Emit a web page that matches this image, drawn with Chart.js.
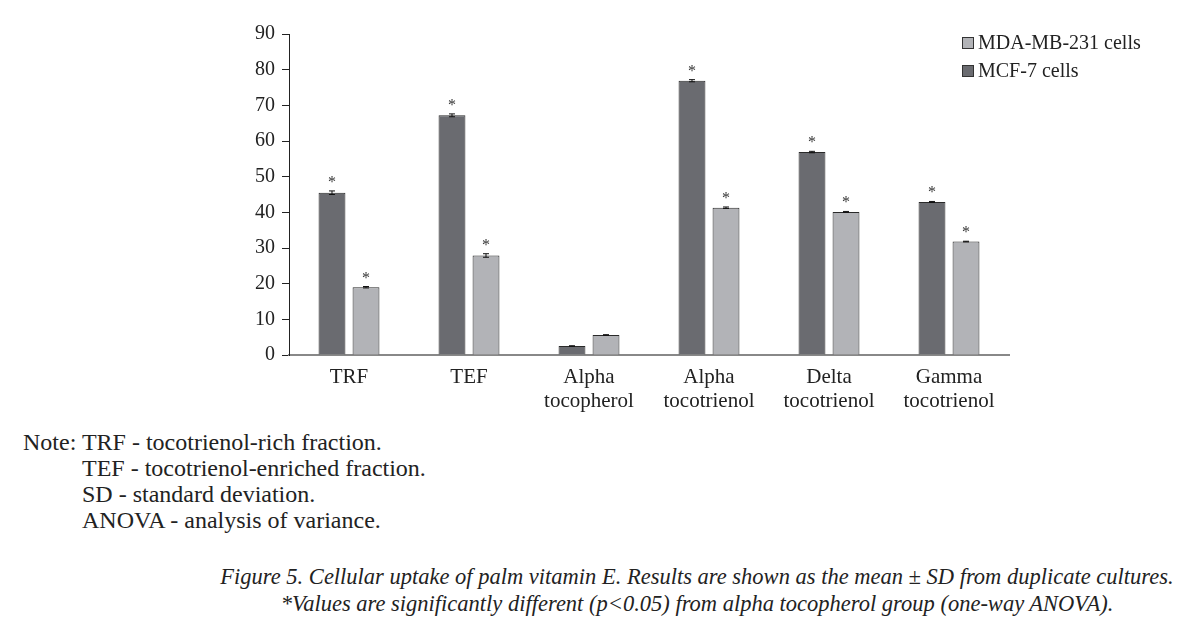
<!DOCTYPE html>
<html>
<head>
<meta charset="utf-8">
<script src="https://cdn.jsdelivr.net/npm/chart.js@4.4.1/dist/chart.umd.min.js"></script>
<style>
  body { margin: 0; background: #fff; }
  #wrap { position: relative; width: 1196px; height: 635px; overflow: hidden; font-family: "Liberation Serif", serif; color: #222; }
  #grafico { position: absolute; left: 0; top: 0; }
  .legenda { position: absolute; left: 962px; font-size: 20px; line-height: 28px; }
  .legenda span.q { display: inline-block; width: 10px; height: 10px; border: 1px solid #333; margin-right: 4px; vertical-align: 0px; }
  #notas { position: absolute; left: 23px; top: 429px; font-size: 24px; line-height: 26px; }
  #notas div { white-space: nowrap; }
  #legenda-fig { position: absolute; left: 197px; top: 563px; width: 1000px; text-align: center; font-style: italic; font-size: 22.5px; line-height: 27px; white-space: nowrap; }
</style>
</head>
<body>
<div id="wrap">
  <canvas id="grafico" width="1196" height="420"></canvas>
  <div class="legenda" id="leg"></div>
  <div id="notas">
    <div>Note: TRF - tocotrienol-rich fraction.</div>
    <div style="padding-left:59px">TEF - tocotrienol-enriched fraction.</div>
    <div style="padding-left:59px">SD - standard deviation.</div>
    <div style="padding-left:59px">ANOVA - analysis of variance.</div>
  </div>
  <div id="legenda-fig">
    <div>Figure 5. Cellular uptake of palm vitamin E. Results are shown as the mean ± SD from duplicate cultures.</div>
    <div>*Values are significantly different (p&lt;0.05) from alpha tocopherol group (one-way ANOVA).</div>
  </div>
</div>
<script>
// Dados
const categorias = [
    "TRF",
    "TEF",
    ["Alpha", "tocopherol"],
    ["Alpha", "tocotrienol"],
    ["Delta", "tocotrienol"],
    ["Gamma", "tocotrienol"]
];
const mcf7 = [45.5, 67.2, 2.5, 76.9, 56.9, 42.9];
const mcf7Erro = [0.5, 0.4, 0.1, 0.3, 0.2, 0.15];
const mda231 = [19.0, 27.9, 5.6, 41.3, 40.1, 31.8];
const mda231Erro = [0.2, 0.5, 0.1, 0.2, 0.15, 0.1];
const significativo = [true, true, false, true, true, true];
const ticksY = [0, 10, 20, 30, 40, 50, 60, 70, 80, 90];

const corEscura = "#6a6b70";
const corClara = "#b2b3b7";

// Legenda em HTML (ordem invertida como no original)
const leg = document.getElementById("leg");
leg.style.top = "28px";
leg.innerHTML =
    '<div><span class="q" style="background:' + corClara + '"></span>MDA-MB-231 cells</div>' +
    '<div><span class="q" style="background:' + corEscura + '"></span>MCF-7 cells</div>';

// Plugin para barras de erro e asteriscos
const errosPlugin = {
    id: "erros",
    afterDatasetsDraw(chart) {
        const ctx = chart.ctx;
        const y = chart.scales.y;
        chart.data.datasets.forEach((ds, i) => {
            const meta = chart.getDatasetMeta(i);
            meta.data.forEach((bar, j) => {
                const v = ds.data[j];
                const e = ds.erros[j];
                const yTop = y.getPixelForValue(v + e);
                const yBot = y.getPixelForValue(v - e);
                ctx.save();
                ctx.strokeStyle = "#111";
                ctx.lineWidth = 1;
                ctx.beginPath();
                ctx.moveTo(bar.x, yTop);
                ctx.lineTo(bar.x, yBot);
                ctx.moveTo(bar.x - 3, yTop);
                ctx.lineTo(bar.x + 3, yTop);
                ctx.moveTo(bar.x - 3, yBot);
                ctx.lineTo(bar.x + 3, yBot);
                ctx.stroke();
                if (significativo[j]) {
                    ctx.fillStyle = "#333";
                    ctx.font = "16px 'Liberation Serif'";
                    ctx.textAlign = "center";
                    ctx.textBaseline = "alphabetic";
                    ctx.fillText("*", bar.x, yTop - 4);
                }
                ctx.restore();
            });
        });
    }
};

const ctx = document.getElementById("grafico").getContext("2d");

new Chart(ctx, {
    type: "bar",
    data: {
        labels: categorias,
        datasets: [{
            label: "MCF-7 cells",
            data: mcf7,
            erros: mcf7Erro,
            backgroundColor: corEscura,
            borderColor: "#2a2a2a",
            borderWidth: 1,
            categoryPercentage: 0.567,
            barPercentage: 0.79,
        }, {
            label: "MDA-MB-231 cells",
            data: mda231,
            erros: mda231Erro,
            backgroundColor: corClara,
            borderColor: "#2a2a2a",
            borderWidth: 1,
            categoryPercentage: 0.567,
            barPercentage: 0.79,
        }],
    },
    options: {
        responsive: false,
        animation: false,
        devicePixelRatio: 1,
        layout: {
            padding: { left: 0, top: 34, right: 187, bottom: 0 }
        },
        plugins: {
            legend: { display: false },
            tooltip: { enabled: false },
        },
        scales: {
            x: {
                grid: { display: false, drawTicks: false },
                border: { display: true, color: "#888", width: 2 },
                ticks: {
                    color: "#222",
                    padding: 10,
                    maxRotation: 0,
                    font: { family: "Liberation Serif", size: 21, lineHeight: 1.15 },
                },
                afterFit(scale) { scale.height = 65; },
            },
            y: {
                min: 0,
                max: 90,
                afterBuildTicks(scale) { scale.ticks = ticksY.map(v => ({ value: v })); },
                grid: { drawOnChartArea: false, drawTicks: true, tickLength: 7, color: "#222" },
                border: { display: true, color: "#222", width: 1 },
                ticks: {
                    color: "#222",
                    padding: 7,
                    font: { family: "Liberation Serif", size: 20 },
                },
                afterFit(scale) { scale.width = 289; },
            },
        },
    },
    plugins: [errosPlugin],
});
</script>
</body>
</html>
